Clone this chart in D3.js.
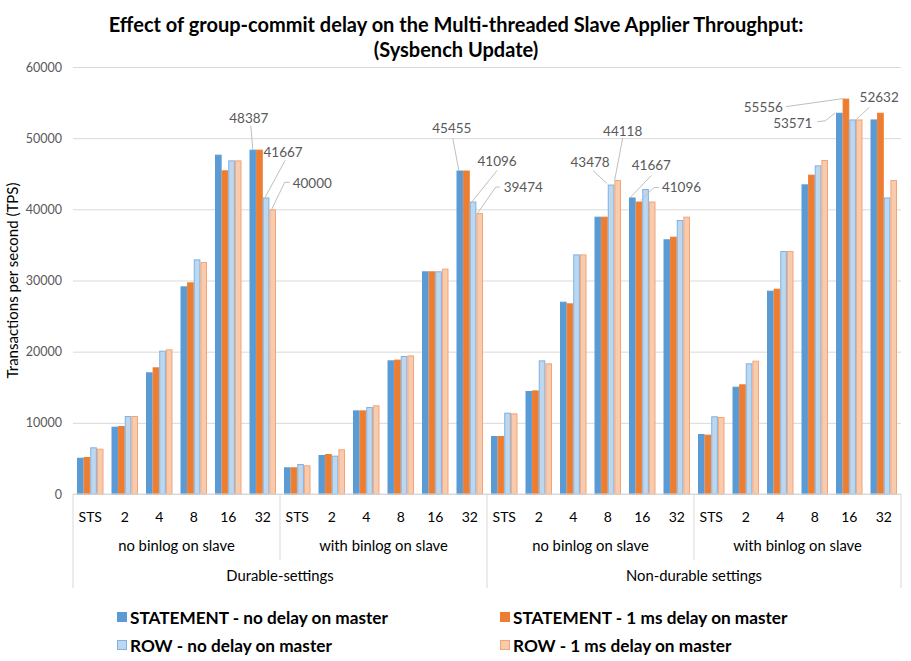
<!DOCTYPE html>
<html lang="en">
<head>
<meta charset="UTF-8">
<script src="https://d3js.org/d3.v7.min.js"></script>
<title>group-commit delay</title>
<style>
  body { margin: 0; background: #fff; }
  text { font-family: Lato, "Open Sans", sans-serif; }
</style>
</head>
<body>
<script>
// categories
var threads = ["STS", "2", "4", "8", "16", "32"];
var slaveGroups = ["no binlog on slave", "with binlog on slave"];
var settings = ["Durable-settings", "Non-durable settings"];
var seriesNames = [
  "STATEMENT - no delay on master",
  "STATEMENT - 1 ms delay on master",
  "ROW - no delay on master",
  "ROW - 1 ms delay on master"
];
var yTicks = [0, 10000, 20000, 30000, 40000, 50000, 60000];

// values, 24 per series (settings x slave group x threads)
var stmtNoDelay = [5100, 9460, 17100, 29180, 47680, 48387, 3750, 5480, 11750, 18780, 31290, 45455,
                   8150, 14470, 27020, 38970, 41667, 35790, 8430, 15080, 28570, 43510, 53571, 52632];
var stmtDelay   = [5200, 9550, 17800, 29740, 45480, 48387, 3750, 5620, 11750, 18880, 31290, 45455,
                   8150, 14560, 26790, 38970, 41096, 36160, 8340, 15410, 28850, 44870, 55556, 53571];
var rowNoDelay  = [6560, 10960, 20140, 32970, 46880, 41667, 4210, 5390, 12220, 19390, 31290, 41096,
                   11430, 18780, 33670, 43478, 42857, 38500, 10920, 18360, 34140, 46180, 52632, 41667];
var rowDelay    = [6370, 10960, 20330, 32600, 46880, 40000, 4030, 6280, 12460, 19480, 31670, 39474,
                   11330, 18360, 33670, 44118, 41096, 38970, 10820, 18730, 34140, 46930, 52632, 44118];
var allSeries = [stmtNoDelay, stmtDelay, rowNoDelay, rowDelay];

// data labels: category index, series index, text offset and leader points from bar top
var labels = [
  { k: 5,  s: 0, dx: -4,  dy: -27, anchor: "middle", pts: [[0, 0], [-2, -24]] },
  { k: 5,  s: 2, dx: 17,  dy: -40, anchor: "middle", pts: [[-1, 0], [19, -37]] },
  { k: 5,  s: 3, dx: 20,  dy: -21, anchor: "start",  pts: [[-1, 0], [12, -27], [17, -27]] },
  { k: 11, s: 0, dx: -8,  dy: -38, anchor: "middle", pts: [[-1, 0], [-7, -32]] },
  { k: 11, s: 2, dx: 24,  dy: -36, anchor: "middle", pts: [[-1, 0], [24, -31]] },
  { k: 11, s: 3, dx: 24,  dy: -21, anchor: "start",  pts: [[-2, 0], [16, -26], [20, -26]] },
  { k: 15, s: 2, dx: -21, dy: -18, anchor: "middle", pts: [[-4, -1], [-18, -14]] },
  { k: 15, s: 3, dx: 5,   dy: -44, anchor: "middle", pts: [[-3, 0], [5, -42]] },
  { k: 16, s: 0, dx: 19,  dy: -27, anchor: "middle", pts: [[-2, 0], [19, -22]] },
  { k: 16, s: 1, dx: 23,  dy: -10, anchor: "start",  pts: [[2, -1], [15, -14], [20, -14]] },
  { k: 22, s: 1, dx: -63, dy: 13,  anchor: "end",    pts: [[-3, 0], [-60, 8]] },
  { k: 22, s: 0, dx: -27, dy: 15,  anchor: "end",    pts: [[-4, 0], [-14, 8], [-22, 9]] },
  { k: 22, s: 3, dx: 20,  dy: -17, anchor: "middle", pts: [[-3, 0], [10, -12]] }
];

var fills   = ["#5B9BD5", "#ED7D31", "#BDD7EE", "#F8CBAD"];
var strokes = ["#5B9BD5", "#ED7D31", "#7FB1E2", "#F4A479"];

var W = 911, H = 661;
var mLeft = 73, mRight = 901, mTop = 67, mBottom = 494;

var svg = d3.select("body").append("svg")
    .attr("width", W)
    .attr("height", H);

var keys = d3.range(24);
var x0 = d3.scaleBand().domain(keys).range([mLeft, mRight]).padding(0);
var x1 = d3.scaleBand().domain(d3.range(4)).range([4, x0.bandwidth() - 4]).padding(0);
var y = d3.scaleLinear().domain([0, 60000]).range([mBottom, mTop]);

// title
svg.append("text")
    .attr("x", 456).attr("y", 32)
    .attr("text-anchor", "middle")
    .style("font-size", "20px").style("font-weight", "bold").style("fill", "#000")
    .text("Effect of group-commit delay on the Multi-threaded Slave Applier Throughput:");
svg.append("text")
    .attr("x", 456).attr("y", 57)
    .attr("text-anchor", "middle")
    .style("font-size", "20px").style("font-weight", "bold").style("fill", "#000")
    .text("(Sysbench Update)");

// gridlines + y labels
var yAxis = d3.axisLeft(y).tickValues(yTicks).tickFormat(d3.format("d"))
    .tickSize(-(mRight - mLeft)).tickPadding(10);
var gy = svg.append("g")
    .attr("transform", "translate(" + mLeft + ",0)")
    .call(yAxis);
gy.select(".domain").remove();
gy.selectAll(".tick line").attr("stroke", "#D9D9D9");
gy.selectAll(".tick text")
    .attr("x", -11)
    .style("font-size", "12.5px").style("fill", "#595959")
    .style("font-family", "Lato, sans-serif");

svg.append("text")
    .attr("transform", "translate(18," + ((mTop + mBottom) / 2) + ") rotate(-90)")
    .attr("text-anchor", "middle")
    .style("font-size", "15px").style("fill", "#000")
    .text("Transactions per second (TPS)");

// bars
var barData = [];
keys.forEach(function (k) {
  allSeries.forEach(function (vals, s) {
    barData.push({ k: k, s: s, v: vals[k] });
  });
});

svg.append("g").selectAll("rect")
  .data(barData)
  .enter().append("rect")
    .attr("x", function (d) { return x0(d.k) + x1(d.s) + 0.5; })
    .attr("y", function (d) { return y(d.v) + 0.5; })
    .attr("width", x1.bandwidth() - 1)
    .attr("height", function (d) { return mBottom - y(d.v) - 0.5; })
    .attr("fill", function (d) { return fills[d.s]; })
    .attr("stroke", function (d) { return strokes[d.s]; })
    .attr("stroke-width", 1);

// data labels with leader lines
var lab = svg.append("g");
labels.forEach(function (L) {
  var bx = x0(L.k) + x1(L.s) + x1.bandwidth() / 2;
  var by = y(allSeries[L.s][L.k]);
  lab.append("polyline")
      .attr("points", L.pts.map(function (p) { return (bx + p[0]) + "," + (by + p[1]); }).join(" "))
      .attr("fill", "none").attr("stroke", "#BFBFBF").attr("stroke-width", 1);
  lab.append("text")
      .attr("x", bx + L.dx).attr("y", by + L.dy)
      .attr("text-anchor", L.anchor)
      .style("font-size", "13.5px").style("fill", "#595959")
      .text(allSeries[L.s][L.k]);
});

// baseline
svg.append("line")
    .attr("x1", mLeft).attr("x2", mRight)
    .attr("y1", mBottom).attr("y2", mBottom)
    .attr("stroke", "#D9D9D9");

// multi-level category axis
var xa = svg.append("g");
keys.forEach(function (k) {
  xa.append("text")
      .attr("x", x0(k) + x0.bandwidth() / 2).attr("y", 522)
      .attr("text-anchor", "middle")
      .style("font-size", "14px").style("fill", "#000")
      .text(threads[k % 6]);
});
var gw = x0.bandwidth() * 6;
d3.range(4).forEach(function (g) {
  xa.append("text")
      .attr("x", mLeft + gw * g + gw / 2).attr("y", 551)
      .attr("text-anchor", "middle")
      .style("font-size", "14.8px").style("fill", "#000")
      .text(slaveGroups[g % 2]);
});
d3.range(2).forEach(function (g) {
  xa.append("text")
      .attr("x", mLeft + gw * 2 * g + gw).attr("y", 581)
      .attr("text-anchor", "middle")
      .style("font-size", "14.8px").style("fill", "#000")
      .text(settings[g]);
});
d3.range(5).forEach(function (i) {
  var xx = mLeft + gw * i;
  xa.append("line")
      .attr("x1", xx).attr("x2", xx)
      .attr("y1", mBottom).attr("y2", i % 2 === 0 ? 588 : 560)
      .attr("stroke", "#D9D9D9");
});

// legend
var legPos = [[117, 618], [500, 618], [117, 646], [500, 646]];
var leg = svg.append("g");
seriesNames.forEach(function (name, i) {
  var p = legPos[i];
  leg.append("rect")
      .attr("x", p[0] + 0.5).attr("y", p[1] - 5.5)
      .attr("width", 9).attr("height", 9)
      .attr("fill", fills[i]).attr("stroke", strokes[i]);
  leg.append("text")
      .attr("x", p[0] + 13).attr("y", p[1] + 6)
      .style("font-size", "17.2px").style("font-weight", "bold").style("fill", "#000")
      .text(name);
});
</script>
</body>
</html>
